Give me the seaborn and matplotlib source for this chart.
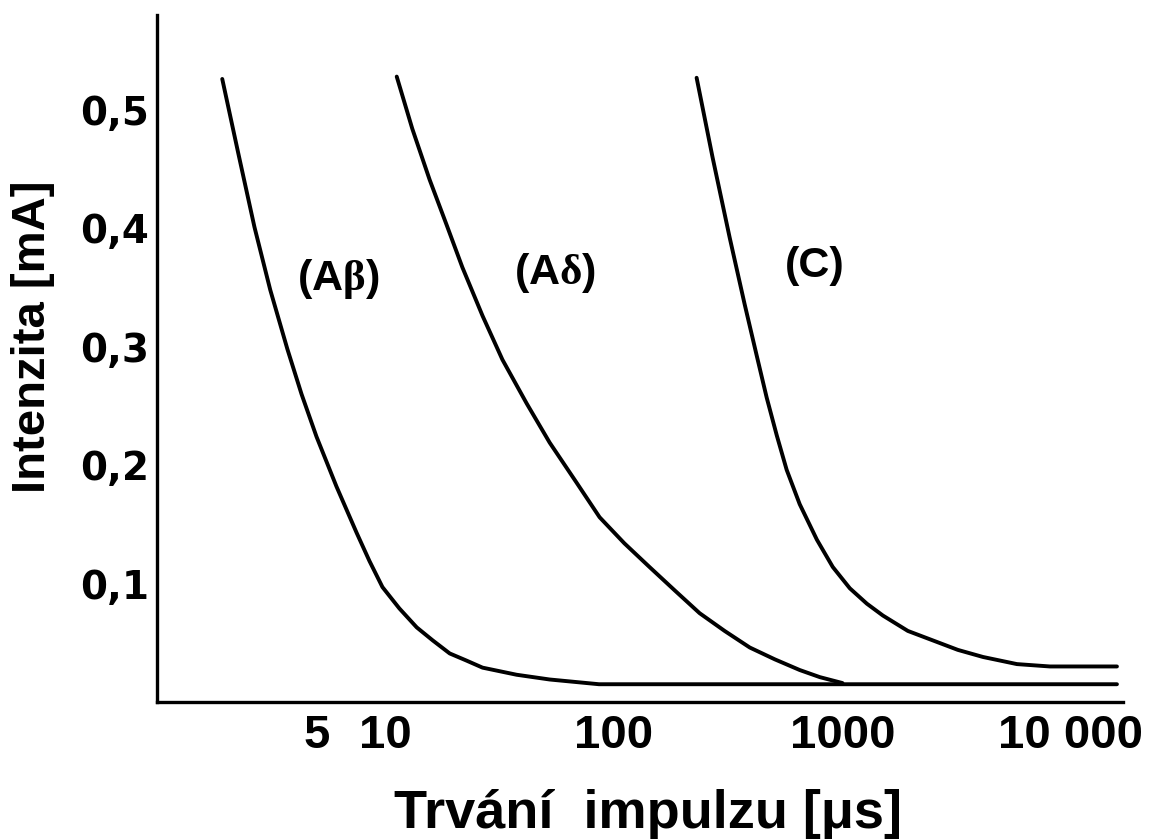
import matplotlib
matplotlib.use("Agg")
import matplotlib.pyplot as plt
import pandas as pd
import seaborn as sns
from matplotlib.ticker import FixedFormatter, FixedLocator, NullLocator

# strength-duration curves (duration in us, intensity in mA)
ab_duration = [1.93, 2.27, 2.67, 3.13, 3.72, 4.29, 4.99, 6.10, 7.47, 8.51, 9.7, 11.5,
               13.7, 16.1, 19.1, 22.6, 26.6, 37.5, 52.3, 86, 15900]
ab_intensity = [0.526, 0.463, 0.401, 0.348, 0.298, 0.260, 0.224, 0.182, 0.143, 0.119, 0.097, 0.079,
                0.063, 0.052, 0.041, 0.035, 0.029, 0.023, 0.019, 0.015, 0.015]

ad_duration = [11.2, 13.1, 15.6, 18.5, 21.7, 26.6, 32.5, 41.5, 52.3, 68.7, 86.5, 111,
               143, 185, 237, 305, 393, 506, 650, 796, 1000]
ad_intensity = [0.528, 0.484, 0.441, 0.403, 0.367, 0.326, 0.289, 0.252, 0.219, 0.185, 0.156, 0.134,
                0.114, 0.094, 0.075, 0.060, 0.046, 0.036, 0.027, 0.021, 0.016]

c_duration = [230, 270, 321, 373, 422, 466, 516, 570, 650, 773, 907, 1077, 1279, 1503,
              1933, 2487, 3199, 4124, 5803, 8090, 15900]
c_intensity = [0.527, 0.460, 0.392, 0.336, 0.292, 0.257, 0.225, 0.196, 0.167, 0.137, 0.114, 0.096,
               0.083, 0.073, 0.060, 0.052, 0.044, 0.038, 0.032, 0.030, 0.030]

fiber_names = ["Aβ", "Aδ", "C"]
label_x = [6.2, 55, 757]
label_y = [0.357, 0.362, 0.368]

x_ticks = [5, 10, 100, 1000, 10000]
x_ticklabels = ["5", "10", "100", "1000", "10 000"]
y_ticks = [0.1, 0.2, 0.3, 0.4, 0.5]
y_ticklabels = ["0,1", "0,2", "0,3", "0,4", "0,5"]

frames = []
for name, xs, ys in zip(fiber_names, [ab_duration, ad_duration, c_duration],
                        [ab_intensity, ad_intensity, c_intensity]):
    frames.append(pd.DataFrame({"duration": xs, "intensity": ys, "fiber": name}))
df = pd.concat(frames, ignore_index=True)

sns.set_theme(style="white")
plt.rcParams["font.family"] = ["Liberation Sans", "DejaVu Sans"]
plt.rcParams["font.weight"] = "bold"
plt.rcParams["text.color"] = "black"
plt.rcParams["axes.labelcolor"] = "black"
plt.rcParams["mathtext.fontset"] = "custom"
plt.rcParams["mathtext.rm"] = "Liberation Serif"
plt.rcParams["mathtext.bf"] = "Liberation Sans:bold"

fig = plt.figure(figsize=(11.5, 8.4), dpi=100)
ax = fig.add_axes([157 / 1150, 1 - 702 / 840, 966 / 1150, 687 / 840])

sns.lineplot(data=df, x="duration", y="intensity", units="fiber", estimator=None,
             sort=False, color="black", linewidth=2.8, ax=ax)

ax.set_xscale("log")
ax.set_xlim(1, 16900)
ax.set_ylim(0, 0.58)

ax.xaxis.set_major_locator(FixedLocator(x_ticks))
ax.xaxis.set_major_formatter(FixedFormatter(x_ticklabels))
ax.xaxis.set_minor_locator(NullLocator())
ax.yaxis.set_major_locator(FixedLocator(y_ticks))
ax.yaxis.set_major_formatter(FixedFormatter(y_ticklabels))

ax.tick_params(axis="x", direction="in", length=10, width=1.5, pad=9,
               labelsize=34, colors="black")
ax.tick_params(axis="y", direction="in", length=12, width=1.8, pad=6,
               labelsize=28, colors="black")
for lab in ax.get_xticklabels():
    lab.set_fontweight("bold")
for lab in ax.get_yticklabels():
    lab.set_fontweight("bold")
    lab.set_family("DejaVu Sans")

sns.despine(ax=ax)
for side in ["left", "bottom"]:
    ax.spines[side].set_linewidth(2.4)
    ax.spines[side].set_color("black")

ax.set_xlabel("Trvání  impulzu [μs]", fontsize=39, fontweight="bold")
ax.set_ylabel("Intenzita [mA]", fontsize=34, fontweight="bold")
ax.xaxis.set_label_coords(0.508, -0.126)
ax.yaxis.set_label_coords(-0.1056, 0.531)

for name, lx, ly in zip(fiber_names, label_x, label_y):
    if name == "C":
        txt = "(C)"
    else:
        txt = r"$\mathbf{(A}\mathrm{" + name[1] + r"}\mathbf{)}$"
    ax.text(lx, ly, txt, fontsize=31, fontweight="bold", color="black",
            ha="center", va="center")

fig.savefig("out.png", dpi=100, facecolor="white")
